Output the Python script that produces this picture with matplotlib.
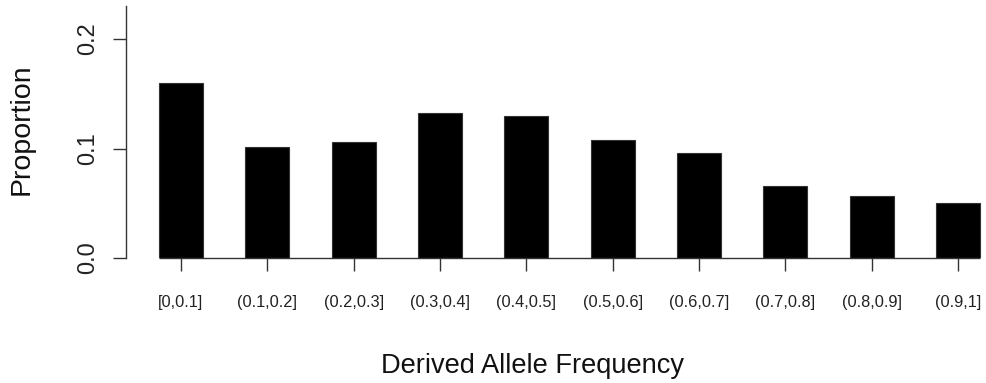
import matplotlib
matplotlib.use("Agg")
import matplotlib.pyplot as plt
import numpy as np

plt.rcParams['font.family'] = ['Liberation Sans', 'DejaVu Sans']

# Proportion of derived alleles per frequency bin
bins = ["[0,0.1]", "(0.1,0.2]", "(0.2,0.3]", "(0.3,0.4]", "(0.4,0.5]",
        "(0.5,0.6]", "(0.6,0.7]", "(0.7,0.8]", "(0.8,0.9]", "(0.9,1]"]
proportion = [0.160, 0.101, 0.106, 0.132, 0.130, 0.108, 0.096, 0.066, 0.057, 0.050]
yticks = [0.0, 0.1, 0.2]
ytick_labels = ["0.0", "0.1", "0.2"]

W, H = 987, 383
fig = plt.figure(figsize=(W / 100, H / 100), dpi=100)

# axes placed in pixel coordinates: left spine at x=126, zero line at y=258
left_px, right_px, bottom_px, top_px = 126, 987, 258, 6
ax = fig.add_axes([left_px / W, (H - bottom_px) / H,
                   (right_px - left_px) / W, (bottom_px - top_px) / H])

pitch = 86.33
x = np.arange(len(bins))
bar_w = 0.51
ax.bar(x, proportion, width=bar_w, color="black", edgecolor="#333333", linewidth=0.8)

ax.set_xlim((left_px - 181) / pitch, (right_px - 181) / pitch)
ax.set_ylim(0, (bottom_px - top_px) / 1095.0)

# baseline spanning the bars
ax.plot([x[0] - bar_w / 2, x[-1] + bar_w / 2], [0, 0], color="#333333", lw=1.0,
        solid_capstyle="butt", clip_on=False)

for s in ["top", "right", "bottom"]:
    ax.spines[s].set_visible(False)
ax.spines["left"].set_color("#333333")
ax.spines["left"].set_linewidth(1.0)

ax.set_xticks(x)
ax.set_xticklabels(bins, fontsize=11.8, color="#222222")
ax.tick_params(axis="x", length=9.4, width=1.0, color="#333333", pad=17)

ax.set_yticks(yticks)
ax.set_yticklabels(ytick_labels, rotation=90, va="center", fontsize=17, color="#222222")
ax.tick_params(axis="y", length=9.4, width=1.0, color="#333333", pad=10)

fig.text(533 / W, 1 - 366 / H, "Derived Allele Frequency", ha="center", va="center",
         fontsize=19.6, color="#111111")
fig.text(22 / W, 1 - 129 / H, "Proportion", ha="center", va="center", rotation=90,
         fontsize=20.5, color="#111111")

fig.savefig("out.png", dpi=100)
